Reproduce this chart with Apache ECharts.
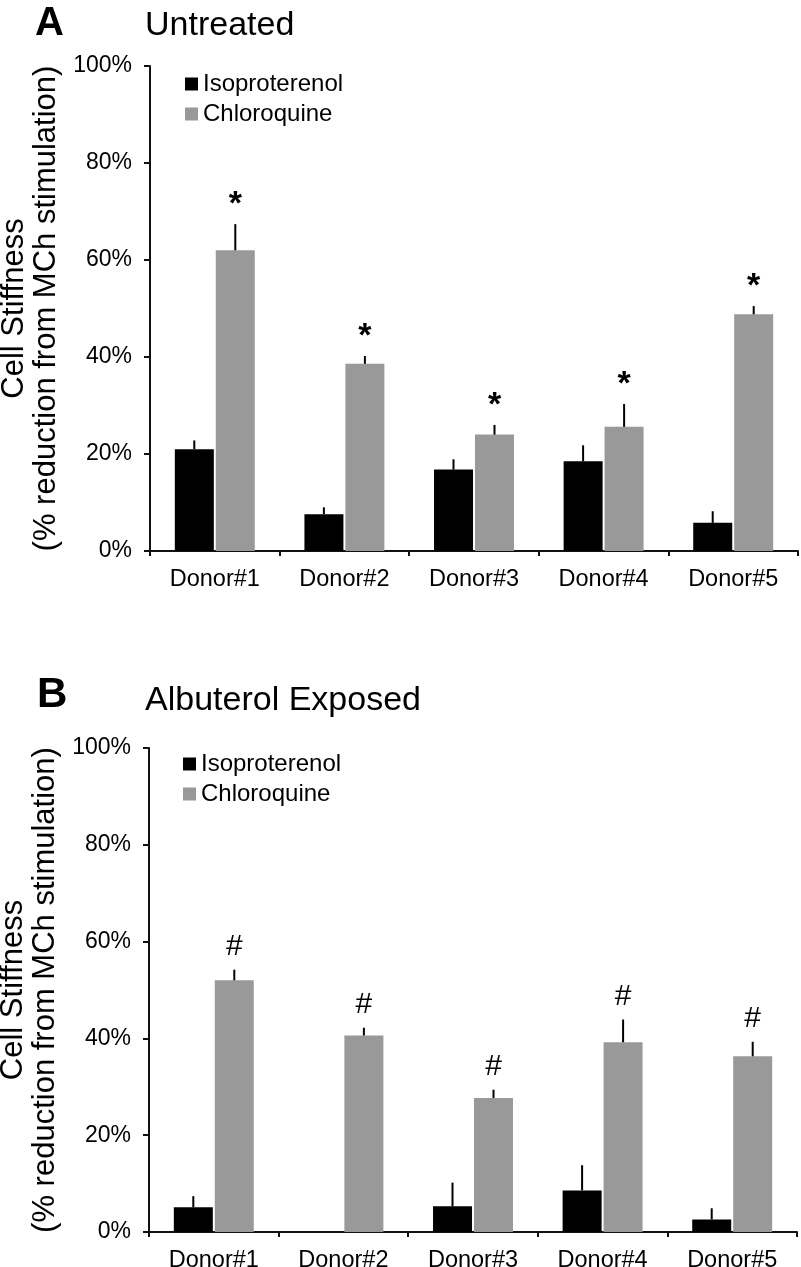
<!DOCTYPE html>
<html>
<head>
<meta charset="utf-8">
<script src="https://cdn.jsdelivr.net/npm/echarts@6/dist/echarts.min.js"></script>
<style>
html,body{margin:0;padding:0;background:#fff;}
#chart{width:801px;height:1267px;}
</style>
</head>
<body>
<div id="chart"></div>
<script>
// ---- data ----
const categories = ['Donor#1', 'Donor#2', 'Donor#3', 'Donor#4', 'Donor#5'];
const seriesNames = ['Isoproterenol', 'Chloroquine'];
const yTicks = [0, 20, 40, 60, 80, 100];

const untreatedIso = [21.0, 7.6, 16.8, 18.5, 5.8];
const untreatedIsoErr = [1.8, 1.4, 2.1, 3.3, 2.4];
const untreatedChl = [62.0, 38.6, 24.0, 25.6, 48.8];
const untreatedChlErr = [5.4, 1.6, 2.0, 4.7, 1.7];
const untreatedMarks = ['*', '*', '*', '*', '*'];

const albuterolIso = [5.1, 0, 5.3, 8.6, 2.6];
const albuterolIsoErr = [2.3, 0, 4.9, 5.2, 2.3];
const albuterolChl = [52.0, 40.6, 27.7, 39.2, 36.3];
const albuterolChlErr = [2.2, 1.6, 1.7, 4.7, 3.0];
const albuterolMarks = ['#', '#', '#', '#', '#'];

// ---- styles ----
const FONT = '"Liberation Sans", Arial, Helvetica, sans-serif';
const BLACK = '#000000';
const GRAY = '#999999';
const AXIS_COLOR = '#111111';
const BAR_W = 39;
const BAR_GAP_PX = 2;
const BAR_OFFSET = (BAR_W + BAR_GAP_PX) / 2;

const chart = echarts.init(document.getElementById('chart'), null, {renderer: 'canvas'});

function errSeries(gi, vals, errs, marks, side, markStyle) {
  return {
    type: 'custom',
    xAxisIndex: gi,
    yAxisIndex: gi,
    silent: true,
    z: 10,
    clip: false,
    data: vals.map((v, i) => [i, v, errs[i]]),
    renderItem: function (params, api) {
      const i = api.value(0), v = api.value(1), e = api.value(2);
      const base = api.coord([i, v]);
      const top = api.coord([i, v + e]);
      const x = base[0] + side * BAR_OFFSET;
      const children = [];
      if (e > 0) {
        children.push({
          type: 'line',
          shape: {x1: x, y1: base[1], x2: x, y2: top[1]},
          style: {stroke: '#000', lineWidth: 2}
        });
      }
      const m = marks ? marks[params.dataIndex] : '';
      if (m) {
        children.push({
          type: 'text',
          x: x,
          y: top[1] - markStyle.offset,
          style: {
            text: m,
            fontSize: markStyle.size,
            fontFamily: FONT,
            fontWeight: markStyle.weight,
            fill: '#000',
            align: 'center',
            verticalAlign: 'bottom',
            lineHeight: markStyle.size
          }
        });
      }
      return {type: 'group', children: children};
    }
  };
}

function xAxis(gi) {
  return {
    type: 'category',
    gridIndex: gi,
    data: categories,
    axisLine: {show: true, lineStyle: {color: AXIS_COLOR, width: 2}},
    axisTick: {show: true, length: 5, alignWithLabel: false, lineStyle: {color: AXIS_COLOR, width: 2}},
    axisLabel: {show: true, interval: 0, fontSize: 23.5, color: '#000', fontFamily: FONT, margin: 17},
    splitLine: {show: false}
  };
}

function yAxis(gi) {
  return {
    type: 'value',
    gridIndex: gi,
    min: yTicks[0],
    max: yTicks[yTicks.length - 1],
    interval: yTicks[1] - yTicks[0],
    axisLine: {show: true, lineStyle: {color: AXIS_COLOR, width: 2}},
    axisTick: {show: true, length: 6, lineStyle: {color: AXIS_COLOR, width: 2}},
    axisLabel: {show: true, formatter: '{value}%', fontSize: 23, color: '#000', fontFamily: FONT, margin: 18},
    splitLine: {show: false},
    name: 'Cell Stiffness\n(% reduction from MCh stimulation)',
    nameLocation: 'middle',
    nameRotate: 90,
    nameGap: 80,
    nameTextStyle: {fontSize: 31, lineHeight: 32, color: '#000', fontFamily: FONT}
  };
}

function legend(left, top) {
  return {
    data: seriesNames,
    orient: 'vertical',
    left: left,
    top: top,
    padding: 0,
    itemWidth: 13,
    itemHeight: 13,
    itemGap: 6,
    icon: 'rect',
    selectedMode: false,
    textStyle: {fontSize: 24, lineHeight: 24, color: '#000', fontFamily: FONT}
  };
}

function bar(gi, name, data, color) {
  return {
    type: 'bar',
    name: name,
    xAxisIndex: gi,
    yAxisIndex: gi,
    data: data,
    barWidth: BAR_W,
    barGap: '5%',
    itemStyle: {color: color, borderWidth: 0},
    silent: true
  };
}

const starStyle = {size: 34, weight: 'bold', offset: 2};
const hashStyle = {size: 30, weight: 'normal', offset: 8};

const option = {
  animation: false,
  backgroundColor: '#ffffff',
  title: [
    {text: 'A', left: 35, top: 4, padding: 0, textStyle: {fontSize: 40, fontWeight: 'bold', color: '#000', fontFamily: FONT}},
    {text: 'Untreated', left: 145, top: 9, padding: 0, textStyle: {fontSize: 34, fontWeight: 'normal', color: '#000', fontFamily: FONT}},
    {text: 'B', left: 37, top: 674, padding: 0, textStyle: {fontSize: 42, fontWeight: 'bold', color: '#000', fontFamily: FONT}},
    {text: 'Albuterol Exposed', left: 145, top: 684, padding: 0, textStyle: {fontSize: 34, fontWeight: 'normal', color: '#000', fontFamily: FONT}}
  ],
  legend: [legend(185, 72), legend(183, 752)],
  grid: [
    {left: 150, top: 66, width: 648, height: 485, containLabel: false, outerBoundsMode: 'none'},
    {left: 149, top: 748, width: 648, height: 484, containLabel: false, outerBoundsMode: 'none'}
  ],
  xAxis: [xAxis(0), xAxis(1)],
  yAxis: [yAxis(0), yAxis(1)],
  series: [
    bar(0, seriesNames[0], untreatedIso, BLACK),
    bar(0, seriesNames[1], untreatedChl, GRAY),
    bar(1, seriesNames[0], albuterolIso, BLACK),
    bar(1, seriesNames[1], albuterolChl, GRAY),
    errSeries(0, untreatedIso, untreatedIsoErr, null, -1, starStyle),
    errSeries(0, untreatedChl, untreatedChlErr, untreatedMarks, 1, starStyle),
    errSeries(1, albuterolIso, albuterolIsoErr, null, -1, hashStyle),
    errSeries(1, albuterolChl, albuterolChlErr, albuterolMarks, 1, hashStyle)
  ]
};

chart.setOption(option);
</script>
</body>
</html>
